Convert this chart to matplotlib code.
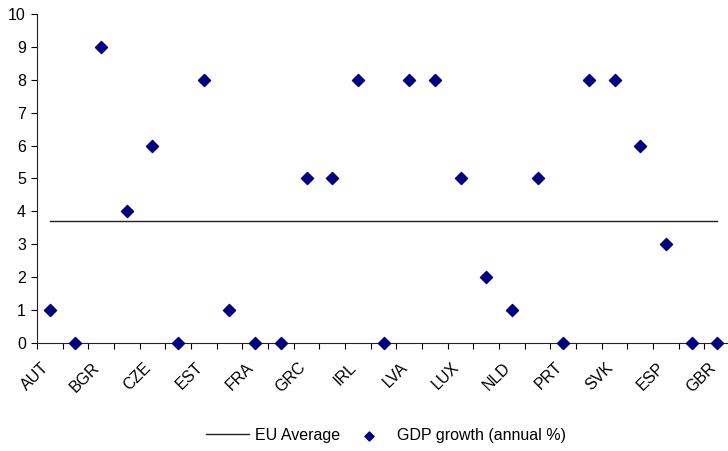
import matplotlib.pyplot as plt
import matplotlib.transforms as mtransforms
import numpy as np

plt.rcParams['font.family'] = ['Liberation Sans', 'DejaVu Sans']

countries = ['AUT', 'BEL', 'BGR', 'CYP', 'CZE', 'DNK', 'EST', 'FIN', 'FRA',
             'DEU', 'GRC', 'HUN', 'IRL', 'ITA', 'LVA', 'LTU', 'LUX', 'MLT',
             'NLD', 'POL', 'PRT', 'ROU', 'SVK', 'SVN', 'ESP', 'SWE', 'GBR']
gdp_growth = [1, 0, 9, 4, 6, 0, 8, 1, 0,
              0, 5, 5, 8, 0, 8, 8, 5, 2,
              1, 5, 0, 8, 8, 6, 3, 0, 0]
eu_average = 3.7

fig = plt.figure(figsize=(7.28, 4.51), dpi=100)
ax = fig.add_axes([0.0508, 0.2395, 0.952, 0.7295])

x = np.arange(len(countries))
ax.plot([x[0], x[-1]], [eu_average, eu_average], color='#222222', lw=1.0,
        label='EU Average')
ax.scatter(x, gdp_growth, marker='D', s=38, color='#000080', zorder=3,
           clip_on=False, label='GDP growth (annual %)')

ax.set_xlim(-0.5, len(countries) - 0.5)
ax.set_ylim(0, 10)
ax.set_yticks(range(0, 11))
ax.tick_params(axis='y', direction='out', length=4, width=0.8, labelsize=11.5,
               pad=4)

# labels on every other category, tick marks between categories
ax.set_xticks(x[::2])
ax.set_xticklabels(countries[::2], rotation=45, ha='right',
                   rotation_mode='anchor', fontsize=11.5)
ax.set_xticks(np.arange(-0.5, len(countries), 1), minor=True)
ax.tick_params(axis='x', which='major', length=0, pad=12)
ax.tick_params(axis='x', which='minor', direction='out', length=4, width=0.8)

# nudge the rotated labels a little to the left
shift = mtransforms.ScaledTranslation(-0.09, 0, fig.dpi_scale_trans)
for lbl in ax.get_xticklabels():
    lbl.set_transform(lbl.get_transform() + shift)

for side in ['top', 'right']:
    ax.spines[side].set_visible(False)
for side in ['left', 'bottom']:
    ax.spines[side].set_linewidth(0.8)
    ax.spines[side].set_color('#222222')

fig.legend(loc='center', bbox_to_anchor=(0.53, 0.035), ncol=2,
           frameon=False, fontsize=11.5, handlelength=2.7, columnspacing=0.45,
           handletextpad=0.4, markerscale=0.75)

fig.savefig('out.png', dpi=100)
